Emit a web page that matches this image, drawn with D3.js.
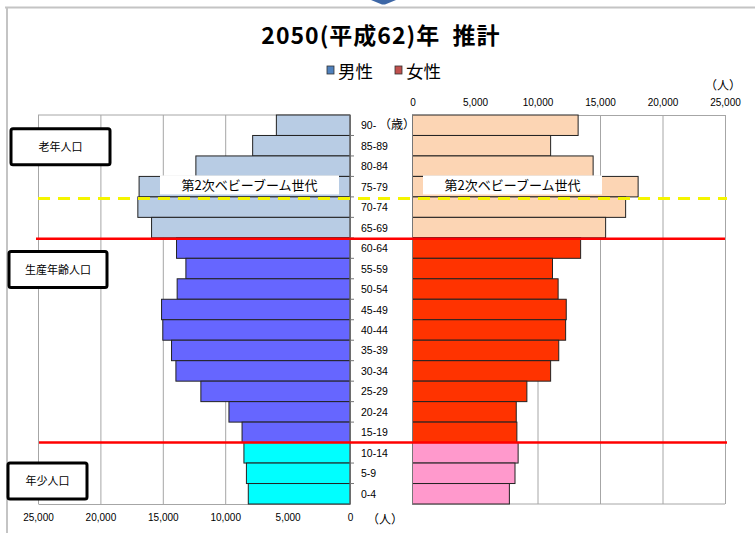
<!DOCTYPE html>
<html>
<head>
<meta charset="utf-8">
<script src="https://cdn.jsdelivr.net/npm/d3@7"></script>
<style>
  body { margin: 0; background: #fff; }
  text { font-family: "Noto Sans CJK JP", "Noto Sans", sans-serif; }
</style>
</head>
<body>
<svg width="755" height="533"></svg>
<script>
const width = 755, height = 533;
const svg = d3.select("svg");

// data (people), top to bottom
const ages = ["90-", "85-89", "80-84", "75-79", "70-74", "65-69", "60-64", "55-59", "50-54",
  "45-49", "40-44", "35-39", "30-34", "25-29", "20-24", "15-19", "10-14", "5-9", "0-4"];
const male = [5900, 7800, 12350, 16900, 17000, 15900, 13900, 13150, 13850,
  15100, 15000, 14300, 13950, 11950, 9700, 8650, 8500, 8300, 8150];
const female = [13250, 11050, 14450, 18050, 17050, 15450, 13450, 11200, 11650,
  12300, 12250, 11700, 11050, 9150, 8300, 8350, 8450, 8200, 7750];
const groups = ["old", "old", "old", "old", "old", "old", "work", "work", "work",
  "work", "work", "work", "work", "work", "work", "work", "young", "young", "young"];
const xTicks = [0, 5000, 10000, 15000, 20000, 25000];
const groupBoxes = [
  {label: "老年人口", age: "85-89"},
  {label: "生産年齢人口", age: "55-59"},
  {label: "年少人口", age: "5-9"}
];

const maleColor = {old: "#b8cce4", work: "#6666ff", young: "#00ffff"};
const femaleColor = {old: "#fcd5b4", work: "#ff3300", young: "#ff99cc"};

const yTop = 115, yBottom = 504;
const y = d3.scaleBand().domain(ages).range([yTop, yBottom]).padding(0);
const xL = d3.scaleLinear().domain([0, 25000]).range([350, 38]);
const xR = d3.scaleLinear().domain([0, 25000]).range([412.5, 725]);
const fmt = d3.format(",");

// outer frame + arrow tip
svg.append("path").attr("d", "M5,7.5H755M7,7.5V533").attr("stroke", "#c4c4c4").attr("stroke-width", 2).attr("fill", "none");
svg.append("path").attr("d", "M371,0H396L385,4.5H382Z").attr("fill", "#3d67a6");

// title + legend
svg.append("text").attr("x", 381).attr("y", 44).attr("text-anchor", "middle")
  .attr("font-size", 23).attr("font-weight", "bold").attr("letter-spacing", 1)
  .attr("xml:space", "preserve").text("2050(平成62)年  推計");
const legend = [{t: "男性", c: "#4f81bd", x: 327}, {t: "女性", c: "#c0504d", x: 395}];
legend.forEach(l => {
  svg.append("rect").attr("x", l.x).attr("y", 66).attr("width", 7).attr("height", 8)
    .attr("fill", l.c).attr("stroke", "#333").attr("stroke-width", 0.8);
  svg.append("text").attr("x", l.x + 11).attr("y", 78).attr("font-size", 17.5).text(l.t);
});

// grid / axes
const gL = svg.append("g").attr("transform", `translate(0,${yBottom})`)
  .call(d3.axisBottom(xL).tickValues(xTicks).tickSize(-(yBottom - yTop)).tickSizeOuter(0).tickFormat(fmt).tickPadding(10));
const gR = svg.append("g").attr("transform", `translate(0,${yTop})`)
  .call(d3.axisTop(xR).tickValues(xTicks).tickSize(-(yBottom - yTop)).tickSizeOuter(0).tickFormat(fmt).tickPadding(8));
[gL, gR].forEach(g => {
  g.select(".domain").attr("stroke", "#a6a6a6");
  g.selectAll(".tick line").attr("stroke", "#a6a6a6");
  g.selectAll(".tick text").attr("font-size", 10).attr("fill", "#000")
    .style("font-family", "'Liberation Sans', Arial, sans-serif");
});
gR.selectAll(".tick text").attr("dy", "-0.1em");
svg.append("path").attr("d", `M38,${yTop}H350M412.5,${yBottom}H725`).attr("stroke", "#a6a6a6");
svg.append("text").attr("x", 385).attr("y", 524).attr("text-anchor", "middle").attr("font-size", 12).text("（人）");
svg.append("text").attr("x", 741).attr("y", 90).attr("text-anchor", "end").attr("font-size", 12).text("（人）");

// bars
svg.append("g").selectAll("rect").data(ages).join("rect")
  .attr("x", (d, i) => xL(male[i])).attr("y", d => y(d))
  .attr("width", (d, i) => xL(0) - xL(male[i])).attr("height", y.bandwidth())
  .attr("fill", (d, i) => maleColor[groups[i]]).attr("stroke", "#222").attr("stroke-width", 1);
svg.append("g").selectAll("rect").data(ages).join("rect")
  .attr("x", xR(0)).attr("y", d => y(d))
  .attr("width", (d, i) => xR(female[i]) - xR(0)).attr("height", y.bandwidth())
  .attr("fill", (d, i) => femaleColor[groups[i]]).attr("stroke", "#222").attr("stroke-width", 1);

// category axis
svg.append("path").attr("d", `M350,${yTop}V${yBottom}M412.5,${yTop}V${yBottom}`).attr("stroke", "#777");
svg.append("g").selectAll("line").data(ages.slice(1)).join("line")
  .attr("x1", 350).attr("x2", 354).attr("y1", d => y(d)).attr("y2", d => y(d)).attr("stroke", "#777");
const ageText = svg.append("g").selectAll("text").data(ages).join("text")
  .attr("x", 361).attr("y", d => y(d) + y.bandwidth() / 2 + 4)
  .attr("font-size", 10.5).style("font-family", "'Liberation Sans', Arial, sans-serif")
  .text(d => d);
ageText.filter((d, i) => i === 0).append("tspan").attr("font-size", 12)
  .style("font-family", "'Noto Sans CJK JP', sans-serif").text(" （歳）");

// baby boom labels
const bb = [{x: 160, w: 179}, {x: 423, w: 179}];
bb.forEach(b => {
  svg.append("rect").attr("x", b.x).attr("y", y("75-79") - 1).attr("width", b.w).attr("height", 19).attr("fill", "#fff");
  svg.append("text").attr("x", b.x + b.w / 2).attr("y", y("75-79") + 14).attr("text-anchor", "middle")
    .attr("font-size", 13).text("第2次ベビーブーム世代");
});

// divider lines
svg.append("line").attr("x1", 38).attr("x2", 727).attr("y1", y("70-74") + 1.5).attr("y2", y("70-74") + 1.5)
  .attr("stroke", "#f5f500").attr("stroke-width", 3).attr("stroke-dasharray", "12,8");
svg.append("line").attr("x1", 36).attr("x2", 725).attr("y1", y("60-64") + 1).attr("y2", y("60-64") + 1)
  .attr("stroke", "#ff0000").attr("stroke-width", 2.5);
svg.append("line").attr("x1", 39).attr("x2", 727).attr("y1", y("10-14")).attr("y2", y("10-14"))
  .attr("stroke", "#ff0000").attr("stroke-width", 2.5);

// population group boxes
const boxX = [11, 9, 8], boxW = [99, 98, 79];
groupBoxes.forEach((b, i) => {
  const cy = y(b.age) + (i === 2 ? 17 : y.bandwidth() / 2);
  svg.append("rect").attr("x", boxX[i]).attr("y", cy - 17).attr("width", boxW[i]).attr("height", 36)
    .attr("rx", 2).attr("fill", "#fff").attr("stroke", "#000").attr("stroke-width", 3);
  svg.append("text").attr("x", boxX[i] + boxW[i] / 2).attr("y", cy + 5).attr("text-anchor", "middle")
    .attr("font-size", 11).text(b.label);
});
</script>
</body>
</html>
